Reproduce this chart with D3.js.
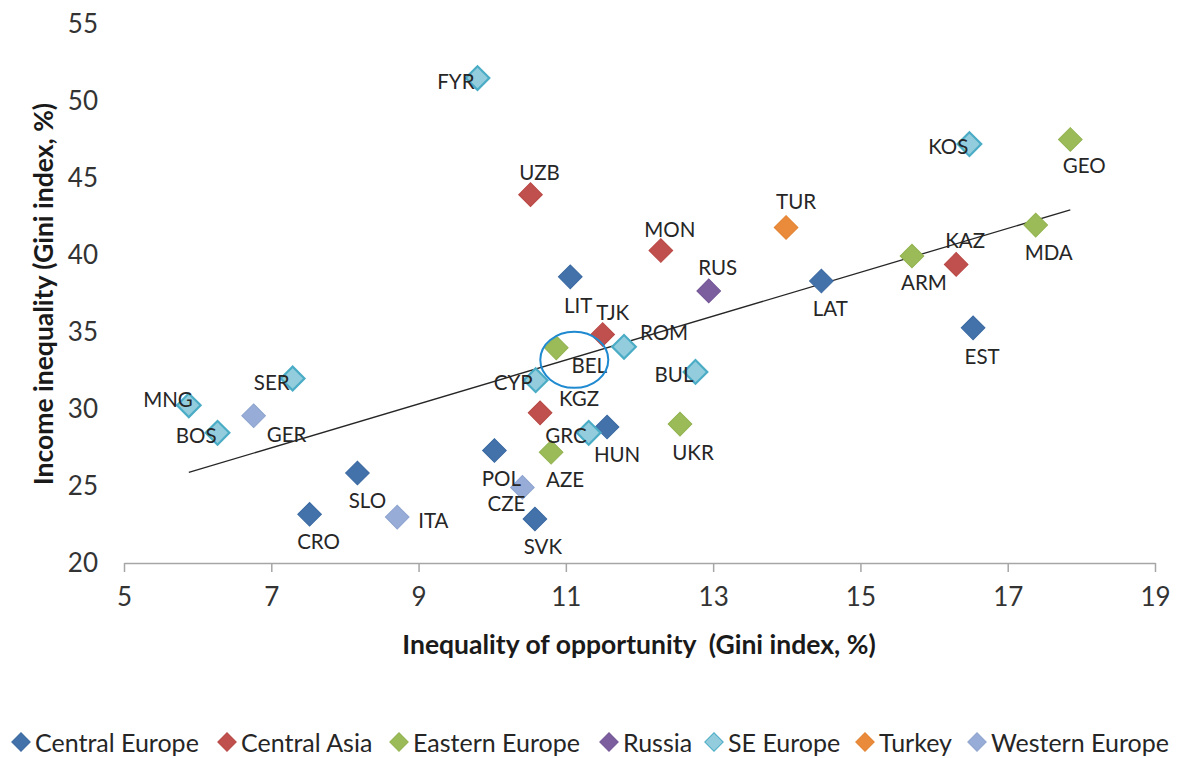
<!DOCTYPE html>
<html>
<head>
<meta charset="utf-8">
<script src="https://cdn.jsdelivr.net/npm/d3@7"></script>
<style>
  body { margin: 0; background: #fff; }
  text { font-family: Lato, 'Liberation Sans', sans-serif; }
</style>
</head>
<body>
<div id="chart"></div>
<script>
// regions, in legend order
const regions = ['Central Europe', 'Central Asia', 'Eastern Europe', 'Russia', 'SE Europe', 'Turkey', 'Western Europe']

// countries: code, region, inequality of opportunity (x), income inequality (y)
const codes = ['LIT', 'LAT', 'EST', 'SLO', 'CRO', 'POL', 'HUN', 'SVK',
  'UZB', 'MON', 'TJK', 'KGZ', 'KAZ',
  'GEO', 'MDA', 'ARM', 'BEL', 'UKR', 'AZE',
  'RUS',
  'FYR', 'KOS', 'SER', 'MNG', 'BOS', 'CYP', 'ROM', 'BUL', 'GRC',
  'TUR',
  'GER', 'ITA', 'CZE']
const regionOf = ['Central Europe', 'Central Europe', 'Central Europe', 'Central Europe', 'Central Europe', 'Central Europe', 'Central Europe', 'Central Europe',
  'Central Asia', 'Central Asia', 'Central Asia', 'Central Asia', 'Central Asia',
  'Eastern Europe', 'Eastern Europe', 'Eastern Europe', 'Eastern Europe', 'Eastern Europe', 'Eastern Europe',
  'Russia',
  'SE Europe', 'SE Europe', 'SE Europe', 'SE Europe', 'SE Europe', 'SE Europe', 'SE Europe', 'SE Europe', 'SE Europe',
  'Turkey',
  'Western Europe', 'Western Europe', 'Western Europe']
const opportunity = [11.06, 14.47, 16.53, 8.17, 7.52, 10.03, 11.56, 10.58,
  10.52, 12.29, 11.50, 10.65, 16.30,
  17.85, 17.38, 15.70, 10.87, 12.55, 10.80,
  12.94,
  9.80, 16.48, 7.29, 5.88, 6.27, 10.59, 11.79, 12.76, 11.31,
  13.99,
  6.76, 8.71, 10.41]
const income = [38.58, 38.31, 35.27, 25.84, 23.16, 27.31, 28.83, 22.86,
  43.92, 40.29, 34.84, 29.75, 39.39,
  47.50, 41.94, 39.93, 33.97, 29.02, 27.19,
  37.67,
  51.49, 47.20, 31.98, 30.24, 28.45, 31.87, 34.04, 32.41, 28.45,
  41.79,
  29.56, 22.98, 24.91]

const xTicks = [5, 7, 9, 11, 13, 15, 17, 19]
const yTicks = [20, 25, 30, 35, 40, 45, 50, 55]

// layout
const W = 1183, H = 758
const plot = { left: 124, right: 1155, top: 24, bottom: 563 }

const fills = {
  'Central Europe': '#4372aa',
  'Central Asia': '#c0504d',
  'Eastern Europe': '#9bbb59',
  'Russia': '#7c5e9f',
  'SE Europe': '#93cddd',
  'Turkey': '#ea8a3b',
  'Western Europe': '#97acd6'
}
const strokes = {
  'Central Europe': '#3b6aa2',
  'Central Asia': '#b84845',
  'Eastern Europe': '#92b350',
  'Russia': '#735696',
  'SE Europe': '#4bacc6',
  'Turkey': '#e2822f',
  'Western Europe': '#8ea4cf'
}

// label placement: dx, dy (centre), anchor
const labelPlace = {
  FYR: [-3, 3, 'end'], UZB: [9, -23, 'middle'], MON: [9, -22, 'middle'], RUS: [9, -24, 'middle'],
  TUR: [10, -26, 'middle'], LIT: [8, 28, 'middle'], KOS: [-1, 2, 'end'], GEO: [14, 25, 'middle'],
  MDA: [13, 27, 'middle'], KAZ: [9, -24, 'middle'], ARM: [12, 26, 'middle'], LAT: [9, 27, 'middle'],
  EST: [9, 28, 'middle'], MNG: [4, -6, 'end'], SER: [-3, 3, 'end'], BOS: [-1, 2, 'end'],
  GER: [33, 18, 'middle'], SLO: [10, 27, 'middle'], CRO: [9, 27, 'middle'], ITA: [21, 3, 'start'],
  BEL: [33, 17, 'middle'], TJK: [10, -22, 'middle'], ROM: [40, -15, 'middle'], CYP: [-3, 2, 'end'],
  BUL: [-2, 2, 'end'], KGZ: [39, -15, 'middle'], GRC: [-2, 2, 'end'], HUN: [10, 27, 'middle'],
  UKR: [13, 28, 'middle'], POL: [7, 28, 'middle'], AZE: [14, 27, 'middle'], CZE: [-16, 16, 'middle'],
  SVK: [8, 27, 'middle']
}
const legendX = [21, 227, 399, 609, 714, 865, 977]

const data = codes.map((c, i) => ({ code: c, region: regionOf[i], x: opportunity[i], y: income[i] }))

const svg = d3.select('#chart').append('svg').attr('width', W).attr('height', H)

const x = d3.scaleLinear().domain([5, 19]).range([plot.left, plot.right])
const y = d3.scaleLinear().domain([20, 55]).range([plot.bottom, plot.top])

// x axis
const xAxis = svg.append('g')
  .attr('transform', `translate(0,${plot.bottom})`)
  .call(d3.axisBottom(x).tickValues(xTicks).tickSize(9).tickPadding(16).tickSizeOuter(0))
xAxis.select('.domain').attr('stroke', '#a6a6a6').attr('stroke-width', 1.5)
xAxis.selectAll('.tick line').attr('stroke', '#a6a6a6').attr('stroke-width', 1.5)
xAxis.selectAll('.tick text').attr('font-size', 26).attr('fill', '#333').style('font-family', 'Lato')

// y axis labels only
const yAxis = svg.append('g')
  .attr('transform', `translate(${plot.left},0)`)
  .call(d3.axisLeft(y).tickValues(yTicks).tickSize(0).tickPadding(26))
yAxis.select('.domain').remove()
yAxis.selectAll('.tick text').attr('font-size', 26).attr('fill', '#333').style('font-family', 'Lato')

// axis titles
svg.append('text')
  .attr('x', 639).attr('y', 644)
  .attr('text-anchor', 'middle').attr('dominant-baseline', 'central')
  .attr('font-size', 26.5).attr('font-weight', 'bold').attr('fill', '#1a1a1a')
  .style('white-space', 'pre')
  .text('Inequality of opportunity  (Gini index, %)')

svg.append('text')
  .attr('transform', 'translate(43,294) rotate(-90)')
  .attr('text-anchor', 'middle').attr('dominant-baseline', 'central')
  .attr('font-size', 26.5).attr('font-weight', 'bold').attr('fill', '#1a1a1a')
  .text('Income inequality (Gini index, %)')

// linear trend (least squares over all countries)
const mx = d3.mean(opportunity), my = d3.mean(income)
const slope = d3.sum(data, d => (d.x - mx) * (d.y - my)) / d3.sum(data, d => (d.x - mx) * (d.x - mx))
const icpt = my - slope * mx
const [x0, x1] = d3.extent(opportunity)
svg.append('line')
  .attr('x1', x(x0)).attr('y1', y(icpt + slope * x0))
  .attr('x2', x(x1)).attr('y2', y(icpt + slope * x1))
  .attr('stroke', '#262626').attr('stroke-width', 1.3)

// markers
const diamond = d3.symbol().type(d3.symbolSquare).size(280)
svg.append('g').selectAll('path')
  .data(data)
  .join('path')
  .attr('d', diamond)
  .attr('transform', d => `translate(${x(d.x)},${y(d.y)}) rotate(45)`)
  .attr('fill', d => fills[d.region])
  .attr('stroke', d => strokes[d.region])
  .attr('stroke-width', d => d.region === 'SE Europe' ? 2.2 : 1)

// data labels
svg.append('g').selectAll('text')
  .data(data)
  .join('text')
  .attr('x', d => x(d.x) + labelPlace[d.code][0])
  .attr('y', d => y(d.y) + labelPlace[d.code][1])
  .attr('text-anchor', d => labelPlace[d.code][2])
  .attr('dominant-baseline', 'central')
  .attr('font-size', 20.5)
  .attr('fill', '#262626')
  .text(d => d.code)

// highlight around BEL
const bel = data.find(d => d.code === 'BEL')
svg.append('ellipse')
  .attr('cx', x(bel.x) + 18).attr('cy', y(bel.y) + 12)
  .attr('rx', 34).attr('ry', 28)
  .attr('fill', 'none').attr('stroke', '#1f8ad0').attr('stroke-width', 2)

// legend
const legend = svg.append('g').selectAll('g')
  .data(regions)
  .join('g')
  .attr('transform', (d, i) => `translate(${legendX[i]},742)`)
legend.append('path')
  .attr('d', d3.symbol().type(d3.symbolSquare).size(170))
  .attr('transform', 'rotate(45)')
  .attr('fill', d => fills[d])
  .attr('stroke', d => strokes[d])
legend.append('text')
  .attr('x', 14).attr('dominant-baseline', 'central')
  .attr('font-size', 25).attr('fill', '#262626')
  .text(d => d)
</script>
</body>
</html>
